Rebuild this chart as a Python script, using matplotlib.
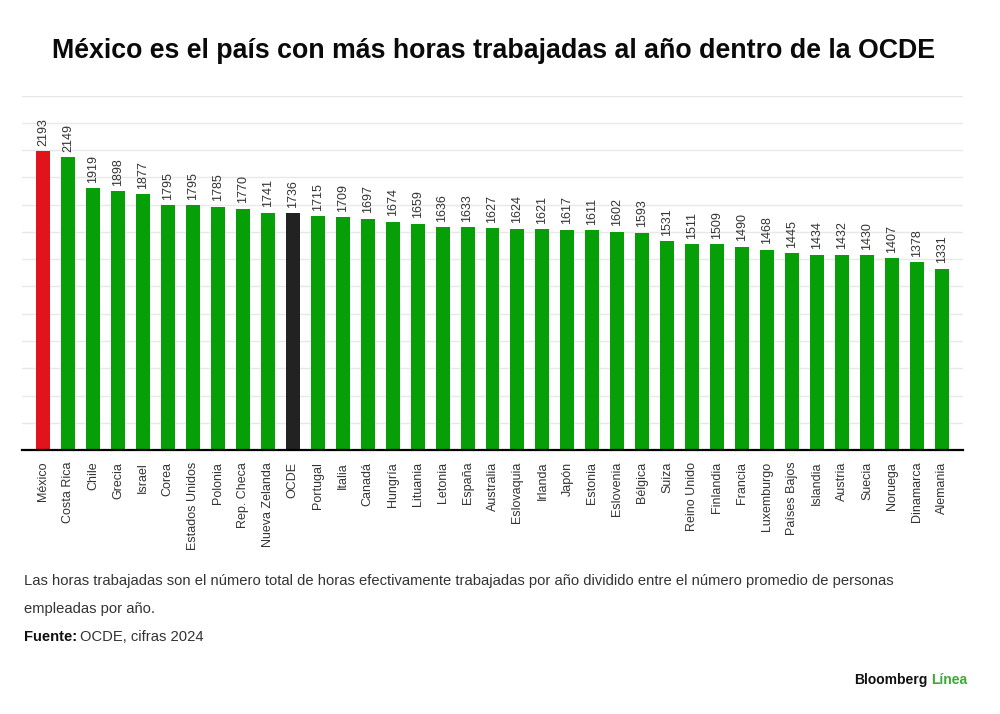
import matplotlib
matplotlib.use("Agg")
import matplotlib.pyplot as plt
import numpy as np

countries = ["México", "Costa Rica", "Chile", "Grecia", "Israel", "Corea",
             "Estados Unidos", "Polonia", "Rep. Checa", "Nueva Zelanda", "OCDE",
             "Portugal", "Italia", "Canadá", "Hungría", "Lituania", "Letonia",
             "España", "Australia", "Eslovaquia", "Irlanda", "Japón", "Estonia",
             "Eslovenia", "Bélgica", "Suiza", "Reino Unido", "Finlandia",
             "Francia", "Luxemburgo", "Países Bajos", "Islandia", "Austria",
             "Suecia", "Noruega", "Dinamarca", "Alemania"]
hours = [2193, 2149, 1919, 1898, 1877, 1795, 1795, 1785, 1770, 1741, 1736,
         1715, 1709, 1697, 1674, 1659, 1636, 1633, 1627, 1624, 1621, 1617,
         1611, 1602, 1593, 1531, 1511, 1509, 1490, 1468, 1445, 1434, 1432,
         1430, 1407, 1378, 1331]

GREEN = "#079f07"
RED = "#e0141a"
BLACK = "#222222"
colors = [RED if c == "México" else (BLACK if c == "OCDE" else GREEN) for c in countries]

plt.rcParams["font.family"] = ["Liberation Sans", "DejaVu Sans"]

fig = plt.figure(figsize=(10, 7.14), dpi=100)
ax = fig.add_axes([0.022, 0.3697, 0.941, 0.4963])

x = np.arange(len(countries))
ax.bar(x, hours, width=0.56, color=colors, zorder=3)
ax.set_xlim(-0.84, len(countries) - 1 + 0.84)
ax.set_ylim(0, 2600)
ax.set_yticks(np.arange(200, 2601, 200))
ax.yaxis.grid(True, color="#e8e8e8", linewidth=1.0, zorder=0)
ax.tick_params(axis="y", left=False, labelleft=False)
ax.tick_params(axis="x", bottom=False, pad=5)
for s in ["top", "right", "left"]:
    ax.spines[s].set_visible(False)
ax.spines["bottom"].set_color("black")
ax.spines["bottom"].set_linewidth(1.6)
ax.spines["bottom"].set_zorder(4)

ax.set_xticks(x)
ax.set_xticklabels(countries, rotation=90, fontsize=9, color="#333333",
                   ha="center", va="top")

for xi, v in zip(x, hours):
    ax.annotate(str(v), (xi, v), xytext=(0, 4), textcoords="offset points",
                rotation=90, ha="center", va="bottom", fontsize=9, color="#333333")

fig.text(0.4935, 0.929, "México es el país con más horas trabajadas al año dentro de la OCDE",
         ha="center", va="center", fontsize=19.3, fontweight="bold", color="#0a0a0a")

FS = 10.6
fig.text(0.024, 0.186, "Las horas trabajadas son el número total de horas efectivamente trabajadas por año dividido entre el número promedio de personas",
         ha="left", va="center", fontsize=FS, color="#333333")
fig.text(0.024, 0.147, "empleadas por año.", ha="left", va="center", fontsize=FS, color="#333333")
t1 = fig.text(0.024, 0.108, "Fuente:", ha="left", va="center", fontsize=FS,
              fontweight="bold", color="#111111")
fig.canvas.draw()
bb = t1.get_window_extent()
x1 = bb.x1 / fig.bbox.width
fig.text(x1 + 0.003, 0.108, "OCDE, cifras 2024", ha="left", va="center", fontsize=FS, color="#333333")

t2 = fig.text(0.967, 0.048, "Línea", ha="right", va="center", fontsize=10,
              fontweight="bold", color="#3aaa35")
fig.canvas.draw()
bb2 = t2.get_window_extent()
x0 = bb2.x0 / fig.bbox.width
fig.text(x0 - 0.003, 0.048, "Bloomberg", ha="right", va="center", fontsize=10,
         fontweight="bold", color="#111111")

fig.savefig("out.png", dpi=100, facecolor="white")
